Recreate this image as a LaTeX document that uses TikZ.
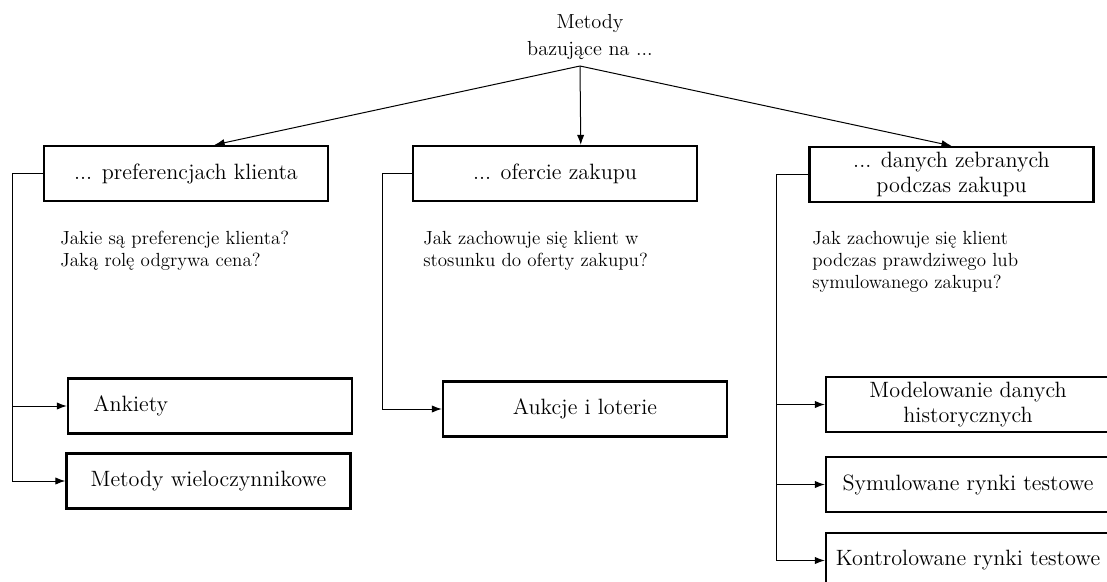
\documentclass[tikz,border=0pt]{standalone}
\usepackage{fontspec}
\usetikzlibrary{arrows.meta,calc,positioning}
\tikzset{
  box/.style={draw, line width=1.4pt, minimum width=170.4pt, minimum height=33pt,
    inner sep=2pt, align=center, font=\fontsize{13.3}{15}\selectfont},
  question/.style={anchor=north west, inner sep=0pt, align=left,
    font=\fontsize{11.4}{13.2}\selectfont},
  arr/.style={line width=0.6pt, -{Latex[length=6pt,width=4.4pt]}}
}

\begin{document}
\begin{tikzpicture}[x=0.6pt,y=-0.6pt]
\clip (0,0) rectangle (1107,582);
\useasboundingbox (0,0) rectangle (1107,582);

% top
\node[anchor=north, inner sep=0pt, align=center, font=\fontsize{12.2}{16}\selectfont] (top) at (590,14) {Metody\\bazujące na ...};
\coordinate (apex) at (580,66);

% three groups
\node[box] (pref) at (186,173.5) {... preferencjach klienta};
\node[box] (ofe) at (555,173.5) {... ofercie zakupu};
\node[box] (dan) at (951.5,174.5) {... danych zebranych\\podczas zakupu};

\draw[arr] (apex) -- ($(pref.north west)!0.6!(pref.north east)$);
\draw[arr] (apex) -- ($(ofe.north west)!0.59!(ofe.north east)$);
\draw[arr] (apex) -- (dan.north);

% questions
\node[question] (q1) at (60,231) {Jakie są preferencje klienta?\\Jaką rolę odgrywa cena?};
\node[question] (q2) at (423,231) {Jak zachowuje się klient w\\stosunku do oferty zakupu?};
\node[question] (q3) at (812,231) {Jak zachowuje się klient\\podczas prawdziwego lub\\symulowanego zakupu?};

% methods
\node[box, text width=140pt, inner xsep=15pt, align=left] (ank) at (210,406) {Ankiety};
\node[box] (wiel) at (208.5,481) {Metody wieloczynnikowe};
\node[box] (auk) at (585,409) {Aukcje i loterie};
\node[box] (mod) at (968,404.5) {Modelowanie danych\\historycznych};
\node[box] (sym) at (968,484.5) {Symulowane rynki testowe};
\node[box] (kon) at (968,560.5) {Kontrolowane rynki testowe};

\draw[arr] (pref.west) -- ++(-30,0) |- (ank.west);
\draw[arr] (pref.west) -- ++(-30,0) |- (wiel.west);
\draw[arr] (ofe.west) -- ++(-29,0) |- (auk.west);
\draw[arr] (dan.west) -- ++(-32,0) |- (mod.west);
\draw[arr] (dan.west) -- ++(-32,0) |- (sym.west);
\draw[arr] (dan.west) -- ++(-32,0) |- (kon.west);
\end{tikzpicture}
\end{document}
